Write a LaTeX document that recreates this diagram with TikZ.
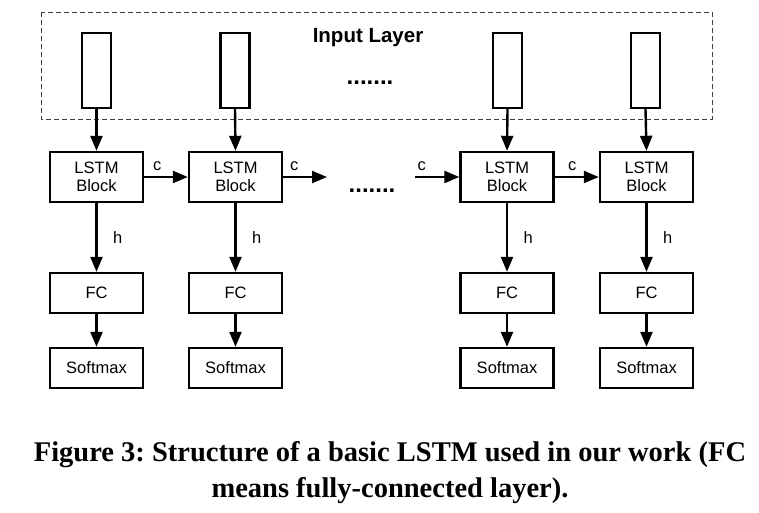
\documentclass[tikz,border=0pt]{standalone}
\usepackage{fontspec}
\setmainfont{Liberation Serif}
\setsansfont{Liberation Sans}
\usetikzlibrary{arrows.meta}

\tikzset{
  box/.style={draw, line width=2.4pt, minimum width=93pt, minimum height=40pt,
    inner sep=0pt, align=center, font=\sffamily\fontsize{16.5}{17.5}\selectfont},
  lstmbox/.style={box, minimum height=50pt},
  inbox/.style={draw, line width=2.4pt, minimum width=29pt, minimum height=75pt, inner sep=0pt},
  link/.style={line width=2.4pt, -{Triangle[length=15pt,width=12pt]}},
  lbl/.style={font=\sffamily\fontsize{16.5}{17.5}\selectfont},
  dotrow/.style={font=\sffamily\bfseries\fontsize{24}{24}\selectfont}
}

\begin{document}
\frenchspacing
\begin{tikzpicture}[x=1pt,y=-1pt]
    \useasboundingbox (0,0) rectangle (759,512);

    % input layer
    \draw[line width=1pt, black!75, dash pattern=on 5pt off 3pt] (41,12) rectangle (712,119);
    \node[font=\sffamily\bfseries\fontsize{20.5}{22}\selectfont] (inlabel) at (368,38) {Input Layer};
    \node[dotrow] (indots) at (370,83) {.......};

    \node[inbox] (in1) at (96.5,70.5) {};
    \node[inbox] (in2) at (235,70.5) {};
    \node[inbox] (in3) at (507.5,70.5) {};
    \node[inbox] (in4) at (645.5,70.5) {};

    % lstm row
    \node[lstmbox] (lstm1) at (96.5,177) {LSTM\\Block};
    \node[lstmbox] (lstm2) at (235.5,177) {LSTM\\Block};
    \node[lstmbox] (lstm3) at (507,177) {LSTM\\Block};
    \node[lstmbox] (lstm4) at (646.5,177) {LSTM\\Block};
    \node[dotrow] (middots) at (372,191) {.......};

    \coordinate (cout) at (327,177);
    \coordinate (cin) at (415,177);

    % fc and softmax
    \node[box] (fc1) at (96.5,293) {FC};
    \node[box] (fc2) at (235.5,293) {FC};
    \node[box] (fc3) at (507,293) {FC};
    \node[box] (fc4) at (646.5,293) {FC};

    \node[box] (sm1) at (96.5,368) {Softmax};
    \node[box] (sm2) at (235.5,368) {Softmax};
    \node[box] (sm3) at (507,368) {Softmax};
    \node[box] (sm4) at (646.5,368) {Softmax};

    % connections
    \draw[link] (in1.south) -- (lstm1.north);
    \draw[link] (in2.south) -- (lstm2.north);
    \draw[link] (in3.south) -- (lstm3.north);
    \draw[link] (in4.south) -- (lstm4.north);

    \draw[link] (lstm1.east) -- node[lbl, pos=0.3, above=2pt] {c} (lstm2.west);
    \draw[link] (lstm2.east) -- node[lbl, pos=0.25, above=2pt] {c} (cout);
    \draw[link] (cin) -- node[lbl, pos=0.15, above=2pt] {c} (lstm3.west);
    \draw[link] (lstm3.east) -- node[lbl, pos=0.4, above=2pt] {c} (lstm4.west);

    \draw[link] (lstm1.south) -- node[lbl, right=12pt] {h} (fc1.north);
    \draw[link] (lstm2.south) -- node[lbl, right=12pt] {h} (fc2.north);
    \draw[link] (lstm3.south) -- node[lbl, right=12pt] {h} (fc3.north);
    \draw[link] (lstm4.south) -- node[lbl, right=12pt] {h} (fc4.north);

    \draw[link] (fc1.south) -- (sm1.north);
    \draw[link] (fc2.south) -- (sm2.north);
    \draw[link] (fc3.south) -- (sm3.north);
    \draw[link] (fc4.south) -- (sm4.north);

    % caption
    \node[font=\bfseries\fontsize{28.5}{30}\selectfont] (cap1) at (390,455) {Figure 3: Structure of a basic LSTM used in our work (FC};
    \node[font=\bfseries\fontsize{28.5}{30}\selectfont] (cap2) at (390,491) {means fully-connected layer).};
\end{tikzpicture}
\end{document}
